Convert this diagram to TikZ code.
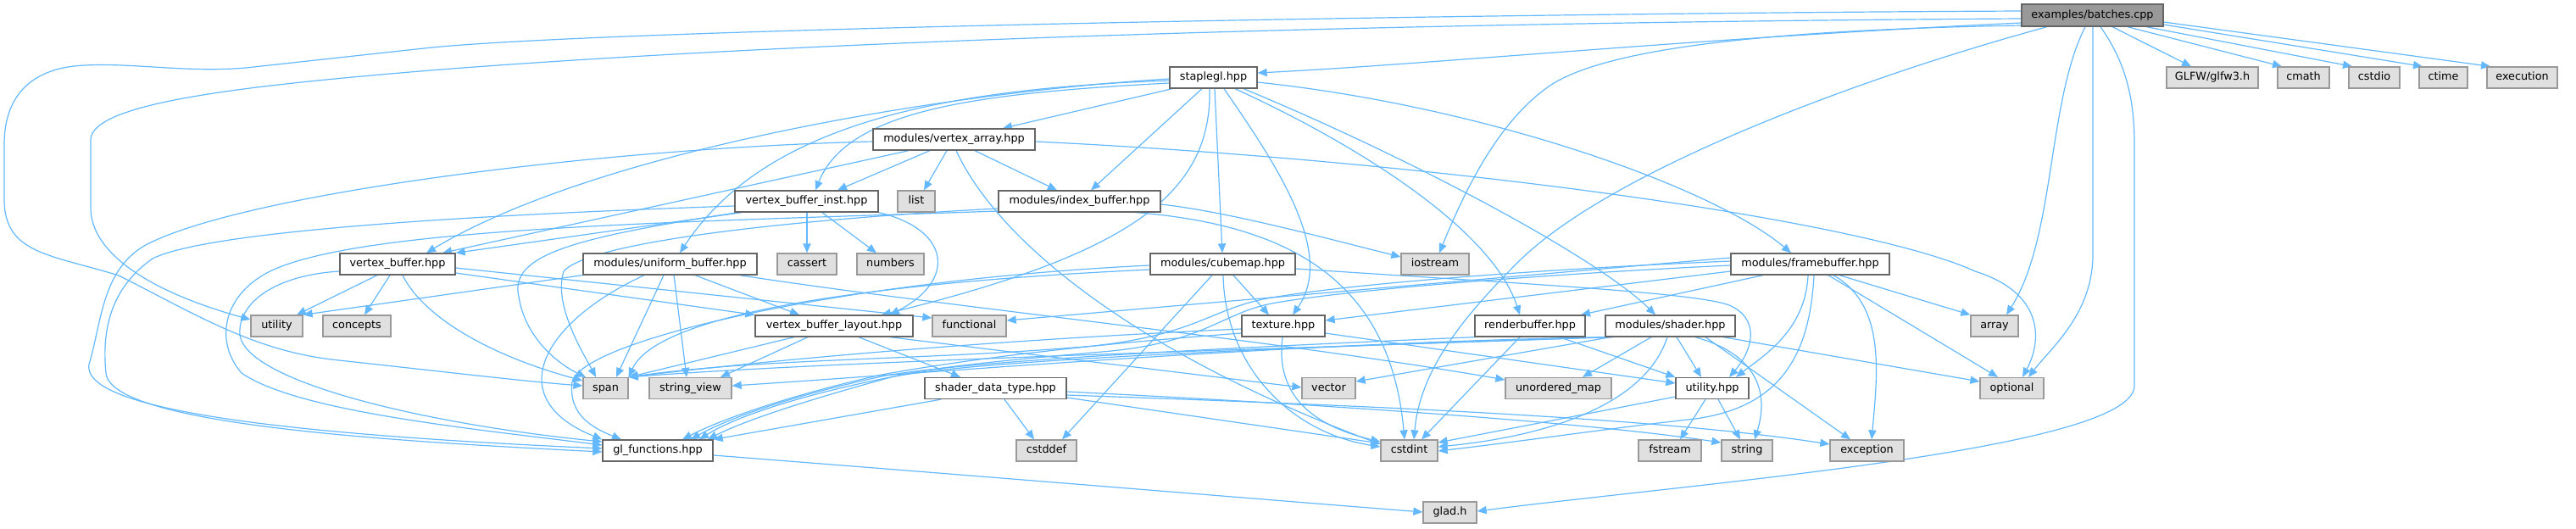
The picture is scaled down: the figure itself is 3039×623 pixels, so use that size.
\documentclass[tikz,border=0pt]{standalone}
\usepackage{fontspec}
\setmainfont{DejaVu Sans}
\usetikzlibrary{arrows.meta}
\definecolor{edgec}{HTML}{63B8FF}
\definecolor{bordc}{HTML}{666666}
\definecolor{grayf}{HTML}{E0E0E0}
\definecolor{grayb}{HTML}{999999}
\definecolor{rootf}{HTML}{999999}
\pgfdeclarelayer{background}
\pgfsetlayers{background,main}
\begin{document}
\begin{tikzpicture}[x=0.5pt,y=-0.5pt,
  box/.style={rectangle, draw=bordc, fill=white, line width=0.65pt, inner sep=0pt,
    minimum height=12.5pt, font=\fontsize{6.4}{7.7}\selectfont, text height=4.7pt, text depth=1.3pt},
  sys/.style={box, draw=grayb, fill=grayf},
  root/.style={box, fill=rootf, minimum height=13pt},
  dep/.style={draw=edgec, line width=0.6pt, -{Triangle[length=5.5pt,width=4.6pt]}}]
\useasboundingbox (0,0) rectangle (3039,623);
% row 0
\node[root, minimum width=83.5pt] (B) at (2468.5,18) {examples/batches.cpp};
% row 1
\node[box, minimum width=51.5pt] (st) at (1431.5,91.5) {staplegl.hpp};
\node[sys, minimum width=54pt] (glfw) at (2610,91.5) {GLFW/glfw3.h};
\node[sys, minimum width=30.5pt] (cmath) at (2717.5,91.5) {cmath};
\node[sys, minimum width=30pt] (cstdio) at (2801,91.5) {cstdio};
\node[sys, minimum width=28.5pt] (ctime) at (2882.5,91.5) {ctime};
\node[sys, minimum width=41.5pt] (execution) at (2975.5,91.5) {execution};
% row 2
\node[box, minimum width=95.5pt] (va) at (1125.5,164.5) {modules/vertex\_array.hpp};
% row 3
\node[box, minimum width=84.5pt] (vbi) at (951.5,237.5) {vertex\_buffer\_inst.hpp};
\node[sys, minimum width=22pt] (list) at (1081,237.5) {list};
\node[box, minimum width=95.5pt] (ib) at (1273.5,237.5) {modules/index\_buffer.hpp};
% row 4
\node[box, minimum width=68pt] (vb) at (469,311.5) {vertex\_buffer.hpp};
\node[box, minimum width=102.5pt] (ub) at (790.5,311.5) {modules/uniform\_buffer.hpp};
\node[sys, minimum width=35pt] (cassert) at (952,311.5) {cassert};
\node[sys, minimum width=39.5pt] (numbers) at (1050.5,311.5) {numbers};
\node[box, minimum width=85.5pt] (cm) at (1442.5,311.5) {modules/cubemap.hpp};
\node[sys, minimum width=40pt] (iostream) at (1693,311.5) {iostream};
\node[box, minimum width=93.5pt] (fb) at (2135.5,311.5) {modules/framebuffer.hpp};
% row 5
\node[sys, minimum width=30.5pt] (ustd) at (326.5,384.5) {utility};
\node[sys, minimum width=40pt] (concepts) at (421,384.5) {concepts};
\node[box, minimum width=93pt] (vbl) at (984,384.5) {vertex\_buffer\_layout.hpp};
\node[sys, minimum width=43.5pt] (functional) at (1143.5,384.5) {functional};
\node[box, minimum width=49pt] (tex) at (1514,384.5) {texture.hpp};
\node[box, minimum width=65pt] (rb) at (1805,384.5) {renderbuffer.hpp};
\node[box, minimum width=76.5pt] (sh) at (1970.5,384.5) {modules/shader.hpp};
\node[sys, minimum width=28pt] (array) at (2353,384.5) {array};
% row 6
\node[sys, minimum width=26.5pt] (span) at (714.5,458) {span};
\node[sys, minimum width=48.5pt] (sv) at (814.5,458) {string\_view};
\node[box, minimum width=83.5pt] (sdt) at (1174.5,458) {shader\_data\_type.hpp};
\node[sys, minimum width=31.5pt] (vector) at (1567.5,458) {vector};
\node[sys, minimum width=62.5pt] (um) at (1838.5,458) {unordered\_map};
\node[box, minimum width=43pt] (uh) at (2020,458) {utility.hpp};
\node[sys, minimum width=37.5pt] (optional) at (2373.5,458) {optional};
% row 7
\node[box, minimum width=65pt] (gl) at (776,531.5) {gl\_functions.hpp};
\node[sys, minimum width=35.5pt] (cstddef) at (1234.5,531.5) {cstddef};
\node[sys, minimum width=33.5pt] (cstdint) at (1662.5,531.5) {cstdint};
\node[sys, minimum width=37pt] (fstream) at (1970,531.5) {fstream};
\node[sys, minimum width=30pt] (string) at (2061,531.5) {string};
\node[sys, minimum width=43.5pt] (exception) at (2202.5,531.5) {exception};
% row 8
\node[sys, minimum width=31.5pt] (glad) at (1710.5,604.5) {glad.h};

\begin{pgfonlayer}{background}
% from batches.cpp
\draw[dep] (B.west |- 0,27) .. controls (2000,45) and (1700,75) .. (st.east |- 0,86);
\draw[dep] (B.west |- 0,13) .. controls (1700,16) and (700,35) .. (500,57) -- (290,80) .. controls (220,86) and (160,74) .. (100,77) .. controls (30,80) and (5,120) .. (5,170) -- (5,235) .. controls (5,300) and (60,300) .. (140,325) .. controls (230,370) and (300,415) .. (400,425) .. controls (520,438) and (620,450) .. (span.west |- 0,455);
\draw[dep] (B.west |- 0,22) .. controls (1700,26) and (1000,45) .. (520,82) .. controls (300,100) and (107,120) .. (107,165) -- (107,245) .. controls (107,300) and (180,345) .. (ustd.west |- 0,377);
\draw[dep] (B.west |- 0,30) .. controls (2100,35) and (1900,55) .. (1830,100) .. controls (1770,140) and (1730,220) .. (iostream.north -| 1698,0);
\draw[dep] (B.south -| 2415,0) .. controls (2200,90) and (1900,200) .. (1790,310) .. controls (1720,380) and (1675,440) .. (cstdint.north -| 1668,0);
\draw[dep] (B.south -| 2460,0) .. controls (2415,120) and (2425,280) .. (array.north -| 2367,0);
\draw[dep] (B.south -| 2469,0) -- (2469,300) .. controls (2469,370) and (2420,410) .. (optional.north -| 2393,0);
\draw[dep] (B.south -| 2478,0) .. controls (2505,70) and (2518,110) .. (2518,170) -- (2518,455) .. controls (2518,530) and (2000,570) .. (glad.east |- 0,603);
\draw[dep] (B.south -| 2492,0) -- (glfw.north -| 2585,0);
\draw[dep] (B.south -| 2510,0) -- (cmath.north -| 2692,0);
\draw[dep] (B.south -| 2532,0) -- (cstdio.north -| 2775,0);
\draw[dep] (B.east |- 0,29) -- (ctime.north -| 2858,0);
\draw[dep] (B.east |- 0,26) -- (execution.north -| 2938,0);
% from staplegl.hpp
\draw[dep] (st.south -| 1383,0) -- (va.north -| 1183,0);
\draw[dep] (st.south -| 1418,0) -- (ib.north -| 1287,0);
\draw[dep] (st.south -| 1433,0) -- (cm.north -| 1442,0);
\draw[dep] (st.south -| 1444,0) .. controls (1510,200) and (1575,300) .. (tex.north -| 1525,0);
\draw[dep] (st.south -| 1457,0) .. controls (1600,170) and (1760,270) .. (rb.north -| 1793,0);
\draw[dep] (st.south -| 1467,0) .. controls (1650,180) and (1880,300) .. (sh.north -| 1953,0);
\draw[dep] (st.east |- 0,97) .. controls (1750,125) and (2020,220) .. (fb.north -| 2113,0);
\draw[dep] (st.west |- 0,93) .. controls (1100,110) and (700,180) .. (vb.north -| 503,0);
\draw[dep] (st.west |- 0,95) .. controls (1100,105) and (900,150) .. (ub.north -| 802,0);
\draw[dep] (st.west |- 0,98) .. controls (1150,110) and (1000,130) .. (vbi.north -| 962,0);
\draw[dep] (st.south -| 1427,0) .. controls (1430,230) and (1330,300) .. (vbl.north -| 1040,0);
% from vertex_array
\draw[dep] (va.south -| 1117,0) -- (list.north -| 1090,0);
\draw[dep] (va.south -| 1150,0) -- (ib.north -| 1247,0);
\draw[dep] (va.south -| 1097,0) -- (vbi.north -| 988,0);
\draw[dep] (va.south -| 1072,0) -- (vb.north -| 522,0);
\draw[dep] (va.west |- 0,167) .. controls (700,175) and (280,230) .. (170,290) .. controls (120,320) and (120,380) .. (105,430) .. controls (95,490) and (400,515) .. (gl.west |- 0,529);
\draw[dep] (va.east |- 0,167) .. controls (1700,190) and (2200,260) .. (2330,320) .. controls (2410,345) and (2410,400) .. (optional.north -| 2386,0);
\draw[dep] (va.south -| 1128,0) .. controls (1180,290) and (1350,420) .. (cstdint.west |- 0,524);
% from vertex_buffer_inst
\draw[dep] (vbi.south -| 952,0) -- (cassert.north);
\draw[dep] (vbi.south -| 970,0) -- (numbers.north -| 1034,0);
\draw[dep] (vbi.south -| 875,0) -- (vb.north east);
\draw[dep] (vbi.south east) .. controls (1120,270) and (1130,330) .. (vbl.north -| 1050,0);
\draw[dep] (vbi.west |- 0,243) .. controls (600,252) and (250,270) .. (180,305) .. controls (130,340) and (120,390) .. (125,440) .. controls (130,500) and (450,520) .. (gl.west |- 0,533);
\draw[dep] (vbi.south -| 870,0) .. controls (680,280) and (600,300) .. (612,350) .. controls (620,400) and (660,430) .. (span.north -| 691,0);
% from index_buffer
\draw[dep] (ib.west |- 0,246) .. controls (1000,255) and (700,280) .. (665,320) .. controls (652,360) and (690,420) .. (span.north -| 703,0);
\draw[dep] (ib.west |- 0,249) .. controls (800,262) and (450,268) .. (330,315) .. controls (265,340) and (250,400) .. (285,440) .. controls (350,485) and (550,505) .. (gl.west |- 0,525);
\draw[dep] (ib.east |- 0,241) .. controls (1450,250) and (1560,280) .. (iostream.west |- 0,303);
\draw[dep] (ib.south -| 1340,0) .. controls (1520,265) and (1640,330) .. (cstdint.north -| 1657,0);
% from vertex_buffer
\draw[dep] (vb.south -| 445,0) -- (ustd.north -| 350,0);
\draw[dep] (vb.south -| 460,0) -- (concepts.north -| 430,0);
\draw[dep] (vb.south -| 475,0) .. controls (500,375) and (580,420) .. (span.west |- 0,449);
\draw[dep] (vb.west |- 0,320) .. controls (320,325) and (280,360) .. (283,395) .. controls (290,450) and (500,500) .. (gl.west |- 0,521);
\draw[dep] (vb.east |- 0,322) -- (vbl.north west);
\draw[dep] (vb.east |- 0,316) -- (functional.west |- 0,375);
% from uniform_buffer
\draw[dep] (ub.south west) -- (ustd.north east);
\draw[dep] (ub.south -| 760,0) .. controls (640,380) and (590,470) .. (gl.north west);
\draw[dep] (ub.south -| 783,0) -- (span.north -| 727,0);
\draw[dep] (ub.south -| 795,0) -- (sv.north -| 810,0);
\draw[dep] (ub.south -| 820,0) -- (vbl.north -| 943,0);
\draw[dep] (ub.south -| 873,0) .. controls (1100,360) and (1500,400) .. (um.west |- 0,448);
% from cubemap
\draw[dep] (cm.south -| 1455,0) -- (tex.north -| 1497,0);
\draw[dep] (cm.south -| 1430,0) -- (cstddef.north -| 1253,0);
\draw[dep] (cm.south -| 1443,0) .. controls (1445,430) and (1520,510) .. (cstdint.west |- 0,527);
\draw[dep] (cm.west |- 0,313) .. controls (1000,330) and (690,400) .. (675,450) .. controls (670,490) and (700,505) .. (gl.north -| 733,0);
\draw[dep] (cm.west |- 0,318) .. controls (1100,330) and (780,360) .. (span.north east);
\draw[dep] (cm.east |- 0,317) .. controls (1800,335) and (2000,345) .. (2040,360) .. controls (2075,375) and (2070,410) .. (uh.north -| 2040,0);
% from texture
\draw[dep] (tex.west |- 0,388) .. controls (1200,400) and (950,420) .. (span.north east);
\draw[dep] (tex.west |- 0,393) .. controls (1300,405) and (1150,422) .. (1040,442) .. controls (950,462) and (860,490) .. (gl.north -| 805,0);
\draw[dep] (tex.south -| 1513,0) .. controls (1505,460) and (1540,500) .. (cstdint.west |- 0,521);
\draw[dep] (tex.east |- 0,393) -- (uh.west |- 0,452);
% from renderbuffer
\draw[dep] (rb.south -| 1793,0) -- (cstdint.north -| 1677,0);
\draw[dep] (rb.south -| 1840,0) -- (uh.north west);
\draw[dep] (rb.south west) .. controls (1450,410) and (1150,425) .. (1045,443) .. controls (950,463) and (865,490) .. (gl.north -| 815,0);
% from shader
\draw[dep] (sh.south -| 1900,0) -- (vector.east |- 0,450);
\draw[dep] (sh.south -| 1948,0) -- (um.north -| 1867,0);
\draw[dep] (sh.south -| 1978,0) -- (uh.north -| 2007,0);
\draw[dep] (sh.south -| 1967,0) .. controls (1940,480) and (1820,515) .. (cstdint.east |- 0,527);
\draw[dep] (sh.south -| 2000,0) .. controls (2080,420) and (2085,470) .. (string.north -| 2070,0);
\draw[dep] (sh.south -| 2012,0) -- (exception.north -| 2183,0);
\draw[dep] (sh.south -| 2033,0) -- (optional.west |- 0,450);
\draw[dep] (sh.south west) .. controls (1500,405) and (1100,440) .. (sv.east |- 0,455);
\draw[dep] (sh.south -| 1897,0) .. controls (1500,412) and (1000,425) .. (span.north east);
\draw[dep] (sh.south -| 1903,0) .. controls (1500,410) and (1150,425) .. (1050,445) .. controls (950,465) and (870,490) .. (gl.north -| 825,0);
% from framebuffer
\draw[dep] (fb.south -| 2170,0) -- (array.north west);
\draw[dep] (fb.south -| 2157,0) -- (optional.north -| 2357,0);
\draw[dep] (fb.south -| 2163,0) .. controls (2225,360) and (2215,440) .. (exception.north -| 2208,0);
\draw[dep] (fb.south -| 2133,0) .. controls (2130,390) and (2080,420) .. (uh.north -| 2048,0);
\draw[dep] (fb.south -| 2140,0) .. controls (2135,420) and (2100,480) .. (2000,494) .. controls (1900,505) and (1800,520) .. (cstdint.east |- 0,532);
\draw[dep] (fb.west |- 0,320) -- (tex.east |- 0,378);
\draw[dep] (fb.south -| 2080,0) -- (rb.north -| 1865,0);
\draw[dep] (fb.west |- 0,304) -- (functional.east |- 0,378);
\draw[dep] (fb.west |- 0,308) .. controls (1850,316) and (1600,333) .. (1495,352) .. controls (1430,364) and (1410,395) .. (1290,408) .. controls (1100,425) and (900,422) .. (span.north east);
\draw[dep] (fb.west |- 0,313) .. controls (1850,322) and (1600,340) .. (1500,358) .. controls (1440,370) and (1420,405) .. (1300,415) .. controls (1150,428) and (1080,436) .. (1040,448) .. controls (960,470) and (880,495) .. (gl.north -| 835,0);
% from vertex_buffer_layout
\draw[dep] (vbl.south -| 1013,0) -- (sdt.north -| 1133,0);
\draw[dep] (vbl.south -| 953,0) -- (sv.north -| 850,0);
\draw[dep] (vbl.south -| 937,0) -- (span.north east);
\draw[dep] (vbl.south -| 1050,0) -- (vector.west |- 0,457);
% from shader_data_type
\draw[dep] (sdt.south -| 1185,0) -- (cstddef.north -| 1220,0);
\draw[dep] (sdt.south -| 1110,0) -- (gl.north east);
\draw[dep] (sdt.east |- 0,469) -- (cstdint.west |- 0,523);
\draw[dep] (sdt.east |- 0,462) .. controls (1500,474) and (1850,495) .. (string.west |- 0,522);
\draw[dep] (sdt.east |- 0,466) .. controls (1600,478) and (1950,492) .. (exception.west |- 0,524);
% from utility.hpp
\draw[dep] (uh.west |- 0,468) -- (cstdint.east |- 0,522);
\draw[dep] (uh.south -| 2012,0) -- (fstream.north -| 1982,0);
\draw[dep] (uh.south -| 2027,0) -- (string.north -| 2053,0);
% from gl_functions
\draw[dep] (gl.east |- 0,537) .. controls (1200,565) and (1500,590) .. (glad.west |- 0,604);
\end{pgfonlayer}
\end{tikzpicture}
\end{document}
